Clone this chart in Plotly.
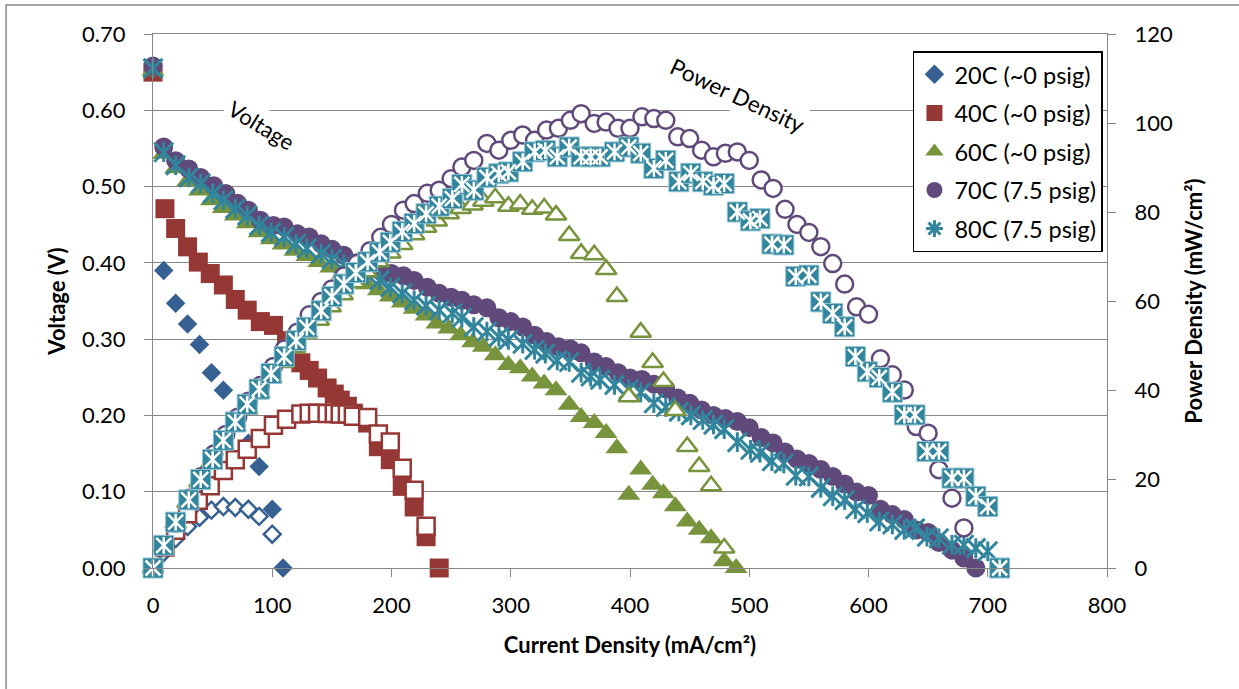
import plotly.graph_objects as go

# ---- measured data: current density (mA/cm2), cell voltage (V), power density (mW/cm2) ----
# (None = no power point plotted at that current)
CURRENT_20C = [0, 9, 19, 29, 39, 49, 59, 69, 80, 89, 100, 109]
VOLTAGE_20C = [0.652, 0.390, 0.347, 0.320, 0.293, 0.256, 0.233, 0.193, 0.1635, 0.133, 0.077, 0.0]
POWER_20C = [0, 3.5, 6.6, 9.3, 11.4, 13.0, 13.8, 13.6, 13.2, 11.6, 7.6, None]

CURRENT_40C = [0, 10, 19, 29, 38, 48, 59, 69, 79, 90, 101, 112, 124, 131, 138, 146, 152, 157,
               163, 168, 180, 189, 199, 209, 219, 229, 240]
VOLTAGE_40C = [0.650, 0.471, 0.445, 0.421, 0.401, 0.386, 0.371, 0.352, 0.338, 0.323, 0.318, 0.298,
               0.269, 0.259, 0.249, 0.236, 0.228, 0.220, 0.212, 0.203, 0.190, 0.159, 0.142, 0.107,
               0.080, 0.041, 0.0]
POWER_40C = [0, 4.7, 8.5, 12.2, 15.2, 18.5, 21.9, 24.3, 26.7, 29.1, 32.1, 33.4, 34.6, 34.8, 34.8,
             34.7, 34.7, 34.6, 34.6, 34.1, 33.8, 30.1, 28.3, 22.4, 17.5, 9.4, None]

CURRENT_60C = [0, 9, 19, 29, 39, 49, 59, 69, 79, 89, 99, 109, 119, 129, 139, 149, 159, 169, 179,
               189, 199, 209, 219, 229, 238, 248, 258, 268, 277, 287, 298, 308, 318, 328, 338, 349,
               359, 370, 380, 389, 399, 409, 419, 428, 438, 448, 458, 468, 479, 489]
VOLTAGE_60C = [0.652, 0.543, 0.524, 0.507, 0.495, 0.482, 0.472, 0.462, 0.452, 0.440, 0.431, 0.424,
               0.416, 0.409, 0.401, 0.394, 0.386, 0.379, 0.372, 0.364, 0.356, 0.348, 0.340, 0.331,
               0.3205, 0.314, 0.305, 0.296, 0.290, 0.279, 0.266, 0.262, 0.251, 0.242, 0.233, 0.214,
               0.198, 0.190, 0.177, 0.157, 0.096, 0.129, 0.109, 0.098, 0.081, 0.061, 0.050, 0.039,
               0.009, 0.0]
POWER_60C = [0, 4.9, 10.0, 14.7, 19.3, 23.6, 27.8, 31.9, 35.7, 39.2, 42.7, 46.2, 49.5, 52.8, 55.7,
             58.7, 61.4, 64.1, 66.6, 68.8, 70.8, 72.7, 74.9, 76.6, 78.0, 79.6, 80.8, 81.6, 82.4,
             83.2, 81.3, 81.8, 80.6, 80.9, 79.3, 74.7, 70.7, 70.4, 67.1, 61.0, 38.5, 53.0, 46.2,
             41.9, 35.4, 27.3, 22.8, 18.5, 4.5, None]

CURRENT_70C = [0, 9, 19, 30, 40, 51, 61, 71, 80, 90, 101, 110, 121, 131, 141, 150, 160, 171, 182,
               191, 200, 210, 219, 230, 240, 250, 259, 269, 280, 290, 300, 310, 320, 330, 340, 350,
               359, 370, 380, 390, 400, 410, 420, 430, 440, 450, 460, 470, 480, 490, 500, 510, 520,
               530, 540, 550, 560, 570, 580, 590, 600, 610, 620, 630, 640, 650, 659, 670, 680, 690]
VOLTAGE_70C = [0.658, 0.552, 0.534, 0.523, 0.512, 0.501, 0.491, 0.478, 0.469, 0.456, 0.449, 0.447,
               0.438, 0.434, 0.425, 0.418, 0.410, 0.400, 0.392, 0.389, 0.386, 0.383, 0.377, 0.368,
               0.360, 0.355, 0.351, 0.345, 0.341, 0.328, 0.323, 0.316, 0.305, 0.297, 0.290, 0.287,
               0.282, 0.270, 0.264, 0.256, 0.249, 0.247, 0.241, 0.235, 0.223, 0.216, 0.207, 0.200,
               0.196, 0.192, 0.184, 0.171, 0.164, 0.152, 0.143, 0.137, 0.129, 0.120, 0.110, 0.0995,
               0.095, 0.077, 0.070, 0.0635, 0.0497, 0.0466, 0.0335, 0.0234, 0.0132, 0.0]
POWER_70C = [0, 5.0, 10.1, 15.7, 20.5, 25.6, 30.0, 33.9, 37.5, 41.0, 45.3, 49.2, 53.0, 56.9, 59.9,
             62.7, 65.6, 68.4, 71.3, 74.3, 77.2, 80.4, 81.9, 84.2, 84.9, 87.5, 90.1, 91.6, 95.4,
             93.9, 96.1, 97.3, 96.1, 98.4, 98.8, 100.6, 102.1, 99.9, 100.2, 98.8, 98.8, 101.4,
             101.0, 100.6, 96.9, 96.5, 93.9, 92.4, 93.2, 93.5, 91.6, 87.2, 85.3, 80.6, 77.2, 75.4,
             72.2, 68.4, 63.8, 58.7, 57.0, 47.0, 43.4, 40.0, 31.8, 30.3, 22.1, 15.7, 9.0, None]

CURRENT_80C = [0, 9, 19, 30, 40, 50, 59, 69, 79, 89, 99, 110, 120, 129, 141, 150, 160, 170, 180,
               190, 199, 209, 219, 229, 240, 251, 259, 269, 280, 290, 298, 310, 320, 329, 339, 349,
               359, 367, 375, 387, 399, 409, 420, 430, 441, 451, 461, 470, 479, 490, 501, 509, 519,
               529, 539, 550, 560, 570, 580, 589, 599, 609, 620, 630, 639, 649, 659, 670, 680, 690,
               700, 710]
VOLTAGE_80C = [0.655, 0.545, 0.528, 0.512, 0.504, 0.491, 0.482, 0.471, 0.462, 0.449, 0.440, 0.434,
               0.425, 0.419, 0.412, 0.405, 0.398, 0.390, 0.384, 0.377, 0.368, 0.360, 0.351, 0.344,
               0.338, 0.334, 0.328, 0.316, 0.310, 0.303, 0.299, 0.294, 0.286, 0.281, 0.272, 0.270,
               0.256, 0.251, 0.247, 0.240, 0.234, 0.230, 0.216, 0.211, 0.205, 0.200, 0.194, 0.188,
               0.182, 0.165, 0.155, 0.151, 0.140, 0.137, 0.121, 0.120, 0.105, 0.094, 0.089, 0.077,
               0.072, 0.061, 0.057, 0.050, 0.052, 0.041, 0.039, 0.0305, 0.0305, 0.026, 0.022, 0.0]
POWER_80C = [0, 5.1, 10.3, 15.3, 19.9, 24.4, 28.7, 32.8, 36.8, 40.2, 43.7, 47.5, 51.1, 54.1, 57.8,
             61.0, 63.8, 66.4, 68.8, 71.0, 73.2, 75.6, 77.4, 79.6, 81.3, 83.0, 86.2, 84.9, 87.8,
             88.6, 89.0, 91.3, 93.5, 93.8, 92.4, 94.6, 92.4, 92.4, 92.4, 93.5, 94.6, 93.2, 89.8,
             91.6, 86.8, 88.7, 86.8, 86.0, 86.4, 80.0, 78.0, 78.5, 72.8, 72.6, 65.5, 65.8, 59.8,
             57.2, 54.2, 47.5, 44.1, 42.8, 39.5, 34.4, 34.4, 26.2, 26.2, 20.2, 20.2, 16.1, 13.8, 0]

SERIES_NAMES = ["20C (~0 psig)", "40C (~0 psig)", "60C (~0 psig)", "70C (7.5 psig)", "80C (7.5 psig)"]
X_TICKS = list(range(0, 801, 100))
V_TICKS = [0.0, 0.1, 0.2, 0.3, 0.4, 0.5, 0.6, 0.7]
P_TICKS = list(range(0, 121, 20))

BLUE, RED, GREEN, PURPLE, TEAL = "#376092", "#953735", "#77933C", "#604A7B", "#31859C"
GRID = "#868686"
FONT = "Lato, 'Open Sans', sans-serif"

fig = go.Figure()


def add(x, y, axis, symbol, size, fill, line_color, line_width, name=None, rank=None):
    fig.add_trace(go.Scatter(
        x=x, y=y, yaxis=axis, mode="markers", cliponaxis=False,
        name=name or "", showlegend=name is not None,
        legendgroup=name, legendrank=rank or 1000,
        marker=dict(symbol=symbol, size=size, color=fill,
                    line=dict(color=line_color, width=line_width)),
        hoverinfo="x+y",
    ))


# voltage curves (filled markers, left axis)
add(CURRENT_20C, VOLTAGE_20C, "y", "diamond", 15, BLUE, BLUE, 0, SERIES_NAMES[0], 1)
add(CURRENT_40C, VOLTAGE_40C, "y", "square", 19, RED, RED, 0, SERIES_NAMES[1], 2)
add(CURRENT_60C, VOLTAGE_60C, "y", "triangle-up", 20, GREEN, GREEN, 0, SERIES_NAMES[2], 3)
add(CURRENT_70C, VOLTAGE_70C, "y", "circle", 19, PURPLE, PURPLE, 0, SERIES_NAMES[3], 4)
add(CURRENT_80C, VOLTAGE_80C, "y", "x-thin-open", 19, TEAL, TEAL, 3)
add(CURRENT_80C, VOLTAGE_80C, "y", "line-ns-open", 14, TEAL, TEAL, 3)
# legend swatch for the 80C star marker
fig.add_trace(go.Scatter(
    x=[None], y=[None], mode="markers", name=SERIES_NAMES[4], legendgroup=SERIES_NAMES[4],
    legendrank=5, marker=dict(symbol="asterisk-open", size=14, color=TEAL,
                              line=dict(color=TEAL, width=3)),
))

# power density curves (open markers, right axis)
add(CURRENT_20C, POWER_20C, "y2", "diamond", 13, "white", BLUE, 2.5)
add(CURRENT_40C, POWER_40C, "y2", "square", 17, "white", RED, 2.5)
add(CURRENT_60C, POWER_60C, "y2", "triangle-up", 18, "white", GREEN, 2.5)
add(CURRENT_70C, POWER_70C, "y2", "circle", 17, "white", PURPLE, 2.5)
add(CURRENT_80C, POWER_80C, "y2", "square", 20, TEAL, "#8FC3D3", 1)
add(CURRENT_80C, POWER_80C, "y2", "x-thin-open", 15, "white", "white", 2.5)
add(CURRENT_80C, POWER_80C, "y2", "line-ns-open", 12, "white", "white", 2.5)

tick_font = dict(family=FONT, size=22, color="black")
title_font = dict(family=FONT, size=22, color="black", weight="bold")

fig.update_layout(
    width=1239, height=689,
    margin=dict(l=153, r=132, t=34, b=121),
    paper_bgcolor="white", plot_bgcolor="white",
    font=dict(family=FONT, color="black"),
    xaxis=dict(
        range=[0, 800], tickvals=X_TICKS, showgrid=False, zeroline=False,
        showline=True, linecolor=GRID, linewidth=1.3, mirror=True,
        ticks="outside", ticklen=8, tickwidth=1.3, tickcolor=GRID,
        tickfont=tick_font, ticklabelstandoff=9,
        title=dict(text="Current Density (mA/cm²)", font=title_font, standoff=21),
    ),
    yaxis=dict(
        range=[0, 0.7], tickvals=V_TICKS, tickformat=".2f",
        showgrid=True, gridcolor=GRID, gridwidth=1.3, zeroline=False,
        showline=True, linecolor=GRID, linewidth=1.3,
        ticks="outside", ticklen=8, tickwidth=1.3, tickcolor=GRID,
        tickfont=tick_font, ticklabelstandoff=14,
        title=dict(text="Voltage (V)", font=title_font, standoff=10),
    ),
    yaxis2=dict(
        range=[0, 120], tickvals=P_TICKS, overlaying="y", side="right",
        showgrid=False, zeroline=False,
        showline=True, linecolor=GRID, linewidth=1.3,
        ticks="outside", ticklen=8, tickwidth=1.3, tickcolor=GRID,
        tickfont=tick_font, ticklabelstandoff=14,
        title=dict(text="Power Density (mW/cm²)", font=title_font, standoff=14),
    ),
    legend=dict(
        x=0.7966, y=0.968, xanchor="left", yanchor="top",
        bgcolor="white", bordercolor="black", borderwidth=1.5,
        font=dict(family=FONT, size=23.5, color="black"),
        tracegroupgap=5, itemclick=False,
    ),
    annotations=[
        dict(text="Voltage", x=91.2, y=0.58, xref="x", yref="y", showarrow=False,
             textangle=31, font=dict(family=FONT, size=22, color="black"),
             bgcolor="white", borderpad=3),
        dict(text="Power Density", x=490.1, y=0.619, xref="x", yref="y", showarrow=False,
             textangle=25, font=dict(family=FONT, size=22.5, color="black"),
             bgcolor="white", borderpad=3),
    ],
    shapes=[
        dict(type="rect", xref="paper", yref="paper", x0=-0.154, x1=1.2, y0=-0.3, y1=1.0543,
             line=dict(color=GRID, width=1.5), fillcolor="rgba(0,0,0,0)", layer="below"),
    ],
)

fig.write_html("out.html")
